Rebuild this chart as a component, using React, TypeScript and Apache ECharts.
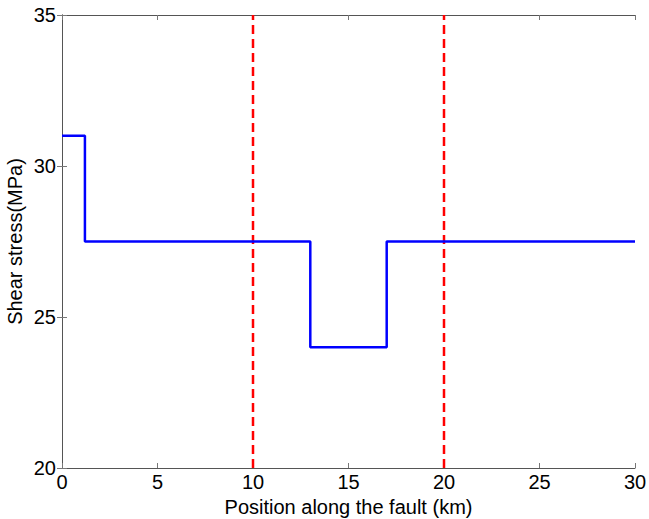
import React, { useEffect, useRef } from "react";
import * as echarts from "echarts";

const stepX = [0, 1.2, 1.2, 13, 13, 17, 17, 30];
const stepY = [31, 31, 27.5, 27.5, 24, 24, 27.5, 27.5];
const faultEdges = [10, 20];
const xRange = [0, 30];
const yRange = [20, 35];

export default function App() {
  const ref = useRef<HTMLDivElement>(null);
  useEffect(() => {
    if (!ref.current) return;
    const chart = echarts.init(ref.current, null, { renderer: "svg" });
    const font = "'Liberation Sans', Arial, sans-serif";
    const axisLine = { show: true, lineStyle: { color: "#555", width: 1 } };
    const tick = { show: true, inside: true, length: 5, lineStyle: { color: "#777" } };
    const stepData = stepX.map((x, i) => [x, stepY[i]]);
    const series: any[] = [
      {
        type: "line",
        data: stepData,
        showSymbol: false,
        lineStyle: { color: "#0000ff", width: 2.5 },
        z: 3,
      },
      ...faultEdges.map((x) => ({
        type: "line",
        data: [
          [x, yRange[0]],
          [x, yRange[1]],
        ],
        showSymbol: false,
        lineStyle: { color: "#ff0000", width: 2.5, type: [9, 5] },
        z: 2,
      })),
    ];
    chart.setOption({
      animation: false,
      backgroundColor: "#fff",
      grid: {
        left: 62,
        right: 14,
        top: 15,
        bottom: 51,
        show: false,
        containLabel: false,
        outerBoundsMode: "none",
      },
      xAxis: [
        {
          type: "value",
          min: xRange[0],
          max: xRange[1],
          interval: 5,
          axisLine,
          axisTick: tick,
          splitLine: { show: false },
          axisLabel: { color: "#000", fontSize: 20, fontFamily: font, margin: 4 },
          name: "Position along the fault (km)",
          nameLocation: "middle",
          nameGap: 29,
          nameTextStyle: { color: "#000", fontSize: 20, fontFamily: font },
        },
        {
          type: "value",
          position: "top",
          min: xRange[0],
          max: xRange[1],
          interval: 5,
          axisLine,
          axisTick: tick,
          splitLine: { show: false },
          axisLabel: { show: false },
        },
      ],
      yAxis: [
        {
          type: "value",
          min: yRange[0],
          max: yRange[1],
          interval: 5,
          axisLine,
          axisTick: tick,
          splitLine: { show: false },
          axisLabel: { color: "#000", fontSize: 20, fontFamily: font, margin: 6 },
          name: "Shear stress(MPa)",
          nameLocation: "middle",
          nameGap: 37,
          nameMoveOverlap: false,
          nameTextStyle: { color: "#000", fontSize: 20, fontFamily: font },
        },
        {
          type: "value",
          position: "right",
          min: yRange[0],
          max: yRange[1],
          interval: 5,
          axisLine,
          axisTick: tick,
          splitLine: { show: false },
          axisLabel: { show: false },
        },
      ],
      series,
    });
    return () => chart.dispose();
  }, []);
  return (
    <div
      ref={ref}
      style={{ position: "absolute", left: 0, top: 0, width: 649, height: 519 }}
    />
  );
}
